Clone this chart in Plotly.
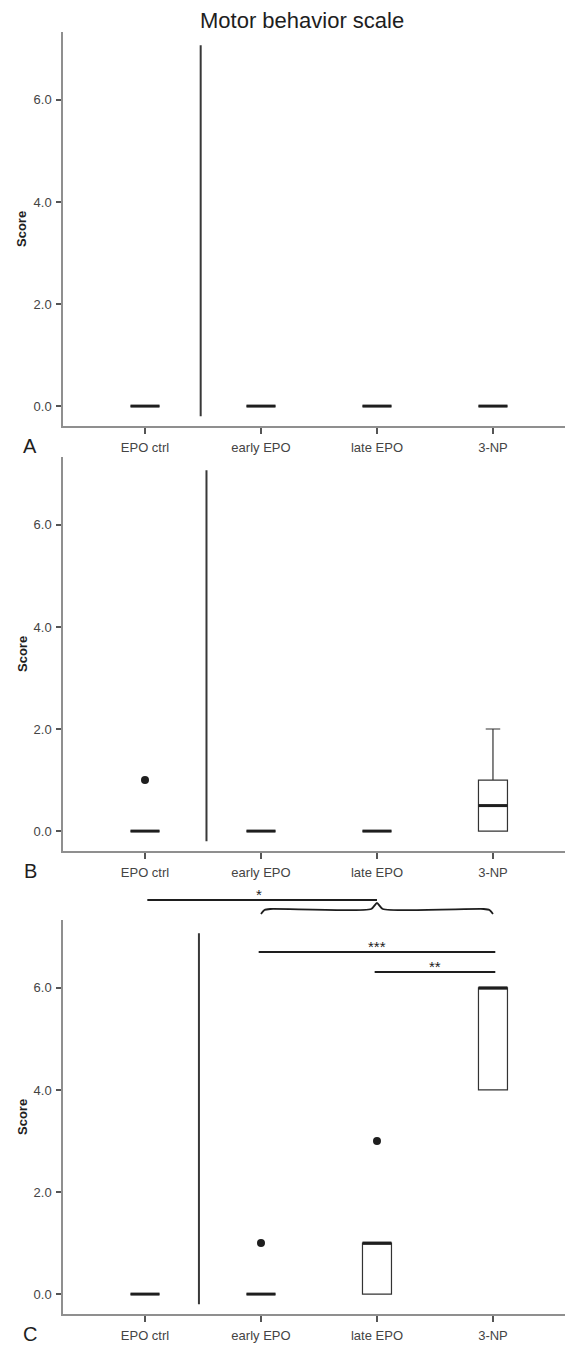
import plotly.graph_objects as go

# ---------------- data ----------------
categories = ["EPO ctrl", "early EPO", "late EPO", "3-NP"]
panel_letters = ["A", "B", "C"]

# box statistics per panel (A, B, C), one value per category
q1_vals = [[0, 0, 0, 0], [0, 0, 0, 0], [0, 0, 0, 4]]
median_vals = [[0, 0, 0, 0], [0, 0, 0, 0.5], [0, 0, 1, 6]]
q3_vals = [[0, 0, 0, 0], [0, 0, 0, 1], [0, 0, 1, 6]]
lower_vals = [[0, 0, 0, 0], [0, 0, 0, 0], [0, 0, 0, 4]]
upper_vals = [[0, 0, 0, 0], [0, 0, 0, 2], [0, 0, 1, 6]]

# outliers per panel: (category index, score)
outlier_cat = [[], [0], [1, 2]]
outlier_val = [[], [1], [1, 3]]

y_ticks = [0, 2, 4, 6]

# significance comparisons in panel C: (from, to, label)
sig_lines = [(1, 3, "***"), (2, 3, "**")]
sig_group_label = "*"          # EPO ctrl vs. bracketed group
brace_span = (1, 3)            # group early EPO .. 3-NP

# ---------------- layout constants ----------------
W, H = 565, 1345
X_LEFT = 63
panel_px = [(32, 426), (457, 851), (920, 1314)]  # (top, bottom) pixels
Y_RANGE = [-0.39, 7.33]
X_RANGE = [-0.707, 3.621]
BOX_W = 0.25
separator_x = [0.48, 0.53, 0.465]
SEP_Y = (-0.2, 7.07)
PX_PER_UNIT = (panel_px[0][1] - panel_px[0][0]) / (Y_RANGE[1] - Y_RANGE[0])

FONT = "Liberation Sans, Arial, sans-serif"
AXIS_COL = "#8f8f8f"
TICK_COL = "#444444"
INK = "#1e1e1e"

fig = go.Figure()
shapes = []
annotations = []

for i, letter in enumerate(panel_letters):
    xa = "x" if i == 0 else f"x{i+1}"
    ya = "y" if i == 0 else f"y{i+1}"
    fig.add_trace(go.Box(
        x=list(range(len(categories))),
        q1=q1_vals[i], median=median_vals[i], q3=q3_vals[i],
        lowerfence=lower_vals[i], upperfence=upper_vals[i],
        width=BOX_W, whiskerwidth=0.5, boxpoints=False,
        fillcolor="white", line=dict(color="#333333", width=1.2),
        xaxis=xa, yaxis=ya, hoverinfo="skip", showlegend=False,
    ))
    # thick median lines
    mx, my = [], []
    for c, m in enumerate(median_vals[i]):
        mx += [c - BOX_W / 2, c + BOX_W / 2, None]
        my += [m, m, None]
    fig.add_trace(go.Scatter(x=mx, y=my, mode="lines",
                             line=dict(color=INK, width=3),
                             xaxis=xa, yaxis=ya, hoverinfo="skip",
                             showlegend=False))
    if outlier_cat[i]:
        fig.add_trace(go.Scatter(x=outlier_cat[i], y=outlier_val[i],
                                 mode="markers",
                                 marker=dict(color=INK, size=8),
                                 xaxis=xa, yaxis=ya, hoverinfo="skip",
                                 showlegend=False, cliponaxis=False))
    # separator line between control and treatment groups
    shapes.append(dict(type="line", xref=xa, yref=ya,
                       x0=separator_x[i], x1=separator_x[i],
                       y0=SEP_Y[0], y1=SEP_Y[1],
                       line=dict(color="#383838", width=2)))

    top, bot = panel_px[i]
    dom = [1 - bot / H, 1 - top / H]
    axis_common = dict(showline=True, linecolor=AXIS_COL, linewidth=1.5,
                       showgrid=False, zeroline=False, ticks="outside",
                       tickcolor="#555555", tickwidth=1.5,
                       tickfont=dict(family=FONT, size=13, color=TICK_COL))
    fig.update_layout(**{
        ("xaxis" if i == 0 else f"xaxis{i+1}"): dict(
            domain=[X_LEFT / W, 1.0], range=X_RANGE, anchor=ya,
            tickvals=list(range(len(categories))), ticktext=categories,
            ticklen=6, ticklabelstandoff=3, **axis_common),
        ("yaxis" if i == 0 else f"yaxis{i+1}"): dict(
            domain=dom, range=Y_RANGE, anchor=xa,
            tickvals=y_ticks, tickformat=".1f", ticklen=5,
            ticklabelstandoff=2, **axis_common),
    })
    # y-axis title
    annotations.append(dict(text="<b>Score</b>", textangle=-90,
                            xref="paper", yref="paper",
                            x=22 / W, y=1 - (top + bot) / 2 / H,
                            xanchor="center", yanchor="middle",
                            showarrow=False,
                            font=dict(family=FONT, size=13, color=INK)))
    # panel letter
    annotations.append(dict(text=letter, xref="paper", yref="paper",
                            x=30 / W, y=1 - (bot + 20) / H,
                            xanchor="center", yanchor="middle",
                            showarrow=False,
                            font=dict(family=FONT, size=20, color=INK)))

# auxiliary axis for significance brackets above panel C (score units)
c_top, c_bot = panel_px[2]
aux_top_px = 870
fig.update_layout(yaxis4=dict(
    domain=[1 - c_bot / H, 1 - aux_top_px / H],
    range=[Y_RANGE[0], Y_RANGE[0] + (c_bot - aux_top_px) / PX_PER_UNIT],
    anchor="x3", visible=False))

def ypx(px):
    """score-unit height above panel C's zero for a pixel row"""
    zero_px = c_bot + Y_RANGE[0] * PX_PER_UNIT
    return (zero_px - px) / PX_PER_UNIT

pad = 0.02
line_style = dict(color=INK, width=2)
# "*" : EPO ctrl to tip of brace
g0, g1 = brace_span
tip = (g0 + g1) / 2
bar_star = ypx(900)
fig.add_trace(go.Scatter(x=[0 + pad, tip], y=[bar_star, bar_star], mode="lines",
                         line=line_style, xaxis="x3", yaxis="y4",
                         hoverinfo="skip", showlegend=False))
annotations.append(dict(text=sig_group_label, xref="x3", yref="y4",
                        x=(0 + tip) / 2 - 0.02, y=bar_star, yanchor="bottom",
                        yshift=-5, showarrow=False,
                        font=dict(family=FONT, size=15, color=INK)))
# brace under it
b_mid, b_end, b_tip = ypx(909), ypx(914), ypx(903)
bx = [g0, g0 + 0.03, g0 + 0.08, tip - 0.05, tip, tip + 0.05, g1 - 0.08, g1 - 0.03, g1]
by = [b_end, b_mid - 0.02, b_mid, b_mid, b_tip, b_mid, b_mid, b_mid - 0.02, b_end]
fig.add_trace(go.Scatter(x=bx, y=by, mode="lines",
                         line=dict(color=INK, width=1.8, shape="spline", smoothing=0.6),
                         xaxis="x3", yaxis="y4", hoverinfo="skip", showlegend=False))
# pairwise comparisons
sig_heights = [ypx(952), ypx(972)]
for (a, b, lab), h in zip(sig_lines, sig_heights):
    fig.add_trace(go.Scatter(x=[a - pad, b + pad], y=[h, h], mode="lines",
                             line=line_style, xaxis="x3", yaxis="y4",
                             hoverinfo="skip", showlegend=False))
    annotations.append(dict(text=lab, xref="x3", yref="y4",
                            x=(a + b) / 2, y=h, yanchor="bottom", yshift=-5,
                            showarrow=False,
                            font=dict(family=FONT, size=15, color=INK)))

# title
annotations.append(dict(text="Motor behavior scale", xref="paper", yref="paper",
                        x=302 / W, y=1 - 20 / H, xanchor="center", yanchor="middle",
                        showarrow=False,
                        font=dict(family=FONT, size=22, color=INK)))

fig.update_layout(width=W, height=H, margin=dict(l=0, r=0, t=0, b=0),
                  paper_bgcolor="white", plot_bgcolor="rgba(0,0,0,0)",
                  shapes=shapes, annotations=annotations, showlegend=False)

fig.write_html("out.html", config={"displayModeBar": False},
               post_script="document.body.style.margin='0';"
                           "document.body.style.overflow='hidden';")
